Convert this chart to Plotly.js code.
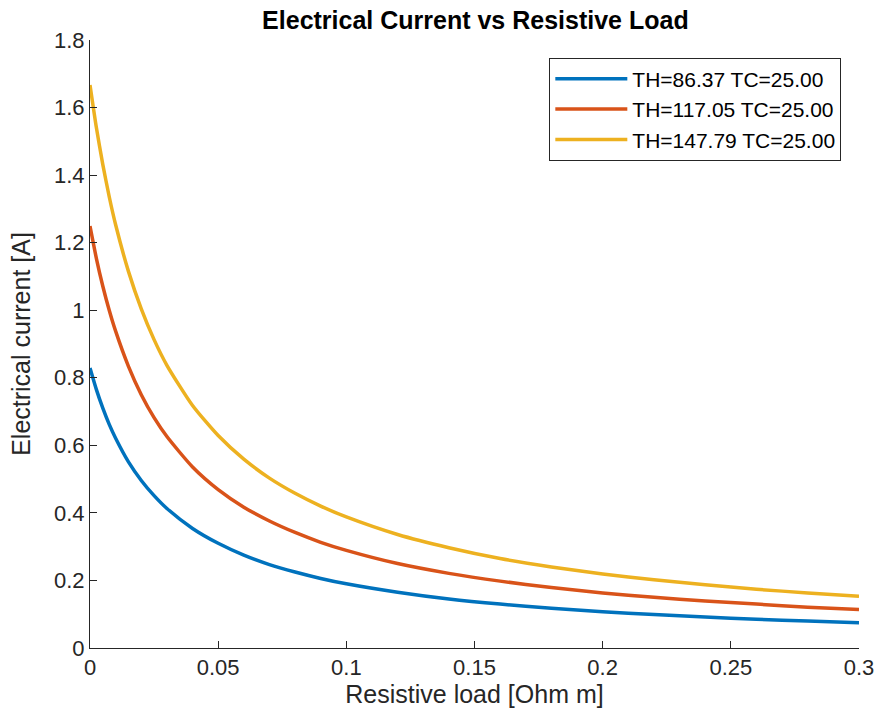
<!DOCTYPE html>
<html>
<head>
<meta charset="utf-8">
<script src="https://cdn.plot.ly/plotly-3.0.1.min.js"></script>
<style>html,body{margin:0;padding:0;background:#fff;}#chart{width:882px;height:725px;}</style>
</head>
<body>
<div id="chart"></div>
<script>
const resistiveLoad = [0, 0.0025, 0.005, 0.0075, 0.01, 0.015, 0.02, 0.025, 0.03, 0.04, 0.05, 0.06, 0.07, 0.08, 0.09, 0.1, 0.12, 0.14, 0.16, 0.18, 0.2, 0.22, 0.24, 0.26, 0.28, 0.3];
const currentTH86 = [0.829, 0.765, 0.710, 0.662, 0.621, 0.551, 0.496, 0.451, 0.413, 0.354, 0.310, 0.275, 0.247, 0.225, 0.206, 0.190, 0.165, 0.145, 0.130, 0.118, 0.107, 0.099, 0.0916, 0.0852, 0.0797, 0.0749];
const currentTH117 = [1.249, 1.153, 1.071, 1.000, 0.938, 0.834, 0.750, 0.682, 0.626, 0.536, 0.469, 0.417, 0.376, 0.342, 0.313, 0.289, 0.250, 0.221, 0.198, 0.179, 0.163, 0.150, 0.139, 0.130, 0.121, 0.114];
const currentTH147 = [1.667, 1.540, 1.431, 1.336, 1.253, 1.115, 1.004, 0.913, 0.837, 0.718, 0.629, 0.559, 0.503, 0.458, 0.420, 0.388, 0.336, 0.297, 0.265, 0.240, 0.219, 0.202, 0.187, 0.174, 0.163, 0.153];
const seriesNames = ["TH=86.37 TC=25.00", "TH=117.05 TC=25.00", "TH=147.79 TC=25.00"];
const seriesColors = ["#0072BD", "#D95319", "#EDB120"];
const xTicks = [0, 0.05, 0.1, 0.15, 0.2, 0.25, 0.3];
const xTickText = ["0", "0.05", "0.1", "0.15", "0.2", "0.25", "0.3"];
const yTicks = [0, 0.2, 0.4, 0.6, 0.8, 1, 1.2, 1.4, 1.6, 1.8];
const yTickText = ["0", "0.2", "0.4", "0.6", "0.8", "1", "1.2", "1.4", "1.6", "1.8"];

const ys = [currentTH86, currentTH117, currentTH147];
const traces = ys.map((y, i) => ({
  x: resistiveLoad, y: y, type: "scatter", mode: "lines",
  name: seriesNames[i],
  line: {color: seriesColors[i], width: 3.5, shape: "spline", smoothing: 0.6}
}));

const fontFam = "Liberation Sans, Arial, sans-serif";
const layout = {
  width: 882, height: 725,
  margin: {l: 90, r: 23, t: 40, b: 77},
  paper_bgcolor: "#fff", plot_bgcolor: "#fff",
  font: {family: fontFam, color: "#262626", size: 22},
  title: {text: "<b>Electrical Current vs Resistive Load</b>", x: 0.539, xanchor: "center", y: 0.972, yanchor: "middle", font: {size: 25, color: "#000", family: fontFam}},
  xaxis: {
    range: [0, 0.3], tickvals: xTicks, ticktext: xTickText,
    showline: true, linecolor: "#262626", linewidth: 1, mirror: false,
    ticks: "inside", ticklen: 7, tickcolor: "#262626", showgrid: false, zeroline: false,
    tickfont: {size: 22, color: "#262626"},
    title: {text: "Resistive load [Ohm m]", font: {size: 25, color: "#262626"}, standoff: 4}
  },
  yaxis: {
    range: [0, 1.8], tickvals: yTicks, ticktext: yTickText,
    showline: true, linecolor: "#262626", linewidth: 1, mirror: false,
    ticks: "inside", ticklen: 7, tickcolor: "#262626", showgrid: false, zeroline: false,
    tickfont: {size: 22, color: "#262626"},
    title: {text: "Electrical current [A]", font: {size: 25, color: "#262626"}, standoff: 16}
  },
  legend: {
    x: 0.977, xanchor: "right", y: 0.971, yanchor: "top",
    bgcolor: "#fff", bordercolor: "#262626", borderwidth: 1,
    font: {size: 21, color: "#000"}, tracegroupgap: 0, itemwidth: 72
  },
  showlegend: true
};
Plotly.newPlot("chart", traces, layout, {displayModeBar: false, staticPlot: true});
</script>
</body>
</html>
